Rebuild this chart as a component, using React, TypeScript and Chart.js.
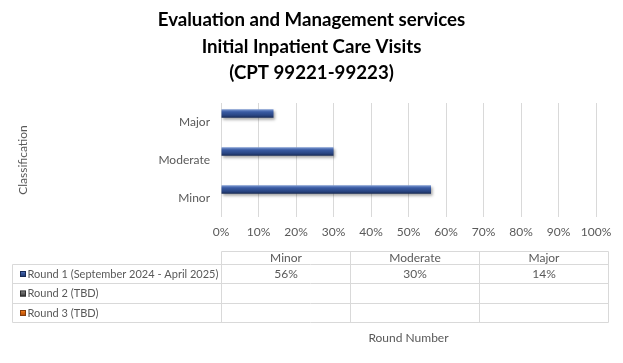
import React, { useEffect, useRef } from 'react';
import { Chart, registerables } from 'chart.js';

Chart.register(...registerables);

// ---------- data ----------
const TITLE_LINES = ['Evaluation and Management services', 'Initial Inpatient Care Visits', '(CPT 99221-99223)'];
const CATEGORIES = ['Minor', 'Moderate', 'Major'];
const SERIES_NAMES = ['Round 1 (September 2024 - April 2025)', 'Round 2 (TBD)', 'Round 3 (TBD)'];
const ROUND_1: (number | null)[] = [0.56, 0.30, 0.14];
const ROUND_2: (number | null)[] = [null, null, null];
const ROUND_3: (number | null)[] = [null, null, null];
const X_MIN = 0;
const X_MAX = 1;
const X_STEP = 0.1;
const Y_AXIS_TITLE = 'Classification';
const X_AXIS_TITLE = 'Round Number';

// ---------- style ----------
const FONT = 'Lato';
const TEXT = '#595959';
const GRID = '#d9d9d9';
const CAT_PCT = 0.667;
const SERIES_STOPS = [
  ['#7f9bd2', '#3a5ba3', '#2a4684', '#182a55'],
  ['#b0b0b0', '#707070', '#505050', '#2e2e2e'],
  ['#f8b27a', '#e46c0a', '#c55a11', '#843c0c'],
];
const pct = (v: number) => Math.round(v * 100) + '%';

function makeGradient(c: CanvasRenderingContext2D, stops: string[], y0: number, y1: number) {
  const g = c.createLinearGradient(0, y0, 0, y1);
  g.addColorStop(0, stops[0]);
  g.addColorStop(0.3, stops[1]);
  g.addColorStop(0.7, stops[2]);
  g.addColorStop(1, stops[3]);
  return g;
}

function barBackground(seriesIdx: number) {
  return (ctx: any) => {
    const chart = ctx.chart;
    const y = chart.scales && chart.scales.y;
    const stops = SERIES_STOPS[seriesIdx];
    if (!y || ctx.type !== 'data' || !chart.chartArea) return stops[2];
    const p0 = y.getPixelForValue(0);
    const p1 = y.getPixelForValue(1);
    const cat = Math.abs(p1 - p0);
    const size = cat * CAT_PCT;
    const chunk = size / 3;
    const center = y.getPixelForValue(ctx.dataIndex) - size / 2 + chunk * ctx.datasetIndex + chunk / 2;
    return makeGradient(chart.ctx, stops, center - chunk / 2, center + chunk / 2);
  };
}

const shadowPlugin = {
  id: 'barShadow',
  beforeDatasetsDraw(chart: any) {
    const c = chart.ctx;
    c.save();
    c.shadowColor = 'rgba(0,0,0,0.35)';
    c.shadowBlur = 3;
    c.shadowOffsetX = 1.5;
    c.shadowOffsetY = 2;
  },
  afterDatasetsDraw(chart: any) {
    chart.ctx.restore();
  },
};

const tablePlugin = {
  id: 'dataTable',
  afterDraw(chart: any) {
    const c: CanvasRenderingContext2D = chart.ctx;
    const area = chart.chartArea;
    const tableLeft = 12.5;
    const colLeft = Math.round(area.left) + 0.5;
    const colW = 129;
    const tableRight = colLeft + colW * CATEGORIES.length;
    const headTop = 251.5;
    const rowLines = [264.5, 283.5, 303.5, 322.5];
    const all = [ROUND_1, ROUND_2, ROUND_3];

    c.save();
    c.strokeStyle = GRID;
    c.lineWidth = 1;
    c.beginPath();
    c.moveTo(colLeft, headTop);
    c.lineTo(tableRight, headTop);
    rowLines.forEach((y) => {
      c.moveTo(tableLeft, y);
      c.lineTo(tableRight, y);
    });
    c.moveTo(tableLeft, rowLines[0]);
    c.lineTo(tableLeft, rowLines[rowLines.length - 1]);
    for (let i = 0; i <= CATEGORIES.length; i++) {
      const x = colLeft + colW * i;
      c.moveTo(x, headTop);
      c.lineTo(x, rowLines[rowLines.length - 1]);
    }
    c.stroke();

    c.font = `12px ${FONT}`;
    c.fillStyle = TEXT;
    c.textBaseline = 'middle';
    c.textAlign = 'center';
    CATEGORIES.forEach((cat, i) => {
      c.fillText(cat, colLeft + colW * i + colW / 2, (headTop + rowLines[0]) / 2);
    });

    SERIES_NAMES.forEach((name, r) => {
      const yc = (rowLines[r] + rowLines[r + 1]) / 2;
      const mx = 20, ms = 6;
      c.fillStyle = makeGradient(c, SERIES_STOPS[r], yc - ms / 2, yc + ms / 2);
      c.fillRect(mx, yc - ms / 2, ms, ms);
      c.strokeStyle = SERIES_STOPS[r][3];
      c.strokeRect(mx + 0.5, yc - ms / 2 + 0.5, ms - 1, ms - 1);
      c.fillStyle = TEXT;
      c.textAlign = 'left';
      c.font = `11px ${FONT}`;
      c.fillText(name, 27.5, yc);
      c.font = `12px ${FONT}`;
      c.textAlign = 'center';
      all[r].forEach((v, i) => {
        if (v == null) return;
        c.fillText(pct(v), colLeft + colW * i + colW / 2, yc);
      });
    });

    c.font = `12px ${FONT}`;
    c.textAlign = 'center';
    c.fillText(X_AXIS_TITLE, (area.left + area.right) / 2, 338);
    c.restore();
  },
};

export default function App() {
  const ref = useRef<HTMLCanvasElement | null>(null);

  useEffect(() => {
    if (!ref.current) return;
    const chart = new Chart(ref.current, {
      type: 'bar',
      data: {
        labels: CATEGORIES,
        datasets: [
          { label: SERIES_NAMES[0], data: ROUND_1, backgroundColor: barBackground(0) },
          { label: SERIES_NAMES[1], data: ROUND_2, backgroundColor: barBackground(1) },
          { label: SERIES_NAMES[2], data: ROUND_3, backgroundColor: barBackground(2) },
        ],
      },
      options: {
        indexAxis: 'y',
        responsive: false,
        animation: false,
        devicePixelRatio: 1,
        datasets: { bar: { categoryPercentage: CAT_PCT, barPercentage: 1 } },
        layout: { padding: { left: 27, right: 27, top: 0, bottom: 116 } },
        plugins: {
          legend: { display: false },
          tooltip: { enabled: false },
          title: {
            display: true,
            text: TITLE_LINES,
            color: '#000000',
            font: { family: FONT, size: 18.67, weight: 'bold', lineHeight: 26.5 / 18.67 },
            padding: { top: 7, bottom: 16.5 },
          },
        },
        scales: {
          x: {
            min: X_MIN,
            max: X_MAX,
            grid: { color: GRID, drawTicks: false },
            border: { display: false },
            ticks: {
              stepSize: X_STEP,
              padding: 8,
              color: TEXT,
              font: { family: FONT, size: 12 },
              callback: (v: any) => pct(Number(v)),
            },
            afterFit: (s: any) => { s.height = 30; },
          },
          y: {
            reverse: true,
            grid: { display: false, drawTicks: false },
            border: { display: false },
            ticks: { padding: 11, color: TEXT, font: { family: FONT, size: 12 } },
            title: {
              display: true,
              text: Y_AXIS_TITLE,
              color: TEXT,
              font: { family: FONT, size: 12 },
              padding: { top: -11.5, bottom: 0 },
            },
            afterFit: (s: any) => { s.width = 194; },
          },
        },
      },
      plugins: [shadowPlugin, tablePlugin],
    } as any);
    return () => chart.destroy();
  }, []);

  return (
    <div style={{ position: 'fixed', left: 0, top: 0, width: 623, height: 363, background: '#ffffff' }}>
      <canvas ref={ref} width={623} height={363} style={{ display: 'block' }} />
    </div>
  );
}
